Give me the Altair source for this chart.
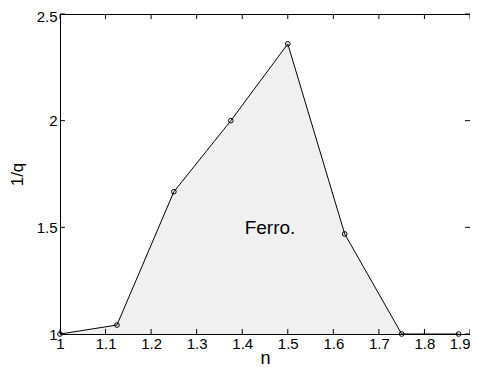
import altair as alt
import pandas as pd

n_vals = [1.0, 1.125, 1.25, 1.375, 1.5, 1.625, 1.75, 1.875]
invq_vals = [1.0, 1.042, 1.667, 2.0, 2.36, 1.469, 1.0, 1.0]
x_ticks = [1.0, 1.1, 1.2, 1.3, 1.4, 1.5, 1.6, 1.7, 1.8, 1.9]
y_ticks = [1.0, 1.5, 2.0, 2.5]
label_text = ["Ferro."]

W, H = 410, 320
FONT = "Liberation Sans"

df = pd.DataFrame({"n": n_vals, "q": invq_vals})
xt = pd.DataFrame({"v": x_ticks})
yt = pd.DataFrame({"v": y_ticks})

xs = alt.Scale(domain=[1.0, 1.9], nice=False, zero=False)
ys = alt.Scale(domain=[1.0, 2.5], nice=False, zero=False)

xax = alt.Axis(values=x_ticks, format=".1~f", grid=False, domain=False, ticks=False,
               labelPadding=2, labelFontSize=15, labelFont=FONT, labelColor="black",
               labelAlign={"condition": {"test": "datum.value >= 1.89", "value": "right"},
                           "value": "center"},
               title="n", titleFontSize=18, titleFont=FONT, titleFontWeight="normal",
               titleColor="black", titlePadding=-2, labelFlush=False)
yax = alt.Axis(values=y_ticks, format=".1~f", grid=False, domain=False, ticks=False,
               labelPadding=3, labelFontSize=15, labelFont=FONT, labelColor="black",
               labelOffset={"condition": {"test": "datum.value >= 2.49", "value": 2},
                            "value": 0},
               title="1/q", titleFontSize=17, titleFont=FONT, titleFontWeight="normal",
               titleColor="black", titlePadding=10, labelFlush=False)

base = alt.Chart(df)

area = base.mark_area(color="#f0f0f0", opacity=1).encode(
    x=alt.X("n:Q", scale=xs, axis=xax),
    y=alt.Y("q:Q", scale=ys, axis=yax),
    y2=alt.datum(1.0),
)

line = base.mark_line(color="black", strokeWidth=1).encode(
    x=alt.X("n:Q", scale=xs), y=alt.Y("q:Q", scale=ys)
)

pts = base.mark_point(shape="circle", filled=False, size=22, color="black",
                      strokeWidth=1, opacity=1).encode(
    x=alt.X("n:Q", scale=xs), y=alt.Y("q:Q", scale=ys)
)

txt = alt.Chart(pd.DataFrame({"t": label_text})).mark_text(
    font=FONT, fontSize=19, color="black", align="center", baseline="middle"
).encode(x=alt.datum(1.461, scale=xs), y=alt.datum(1.497, scale=ys), text="t:N")

TL = 5
xtick_b = alt.Chart(xt).mark_rule(color="black", strokeWidth=1).encode(
    x=alt.X("v:Q", scale=xs), y=alt.value(H), y2=alt.value(H - TL))
xtick_t = alt.Chart(xt).mark_rule(color="black", strokeWidth=1).encode(
    x=alt.X("v:Q", scale=xs), y=alt.value(0), y2=alt.value(TL))
ytick_l = alt.Chart(yt).mark_rule(color="black", strokeWidth=1).encode(
    y=alt.Y("v:Q", scale=ys), x=alt.value(0), x2=alt.value(TL))
ytick_r = alt.Chart(yt).mark_rule(color="black", strokeWidth=1).encode(
    y=alt.Y("v:Q", scale=ys), x=alt.value(W), x2=alt.value(W - TL))

chart = alt.layer(area, line, pts, txt, xtick_b, xtick_t, ytick_l, ytick_r).properties(
    width=W, height=H,
    autosize=alt.AutoSizeParams(type="none"),
    padding={"left": 52, "top": 6, "right": 0, "bottom": 34},
    background="white",
).configure_view(stroke="black", strokeWidth=1)

chart.save("out.html", embed_options={"renderer": "svg", "actions": False})
